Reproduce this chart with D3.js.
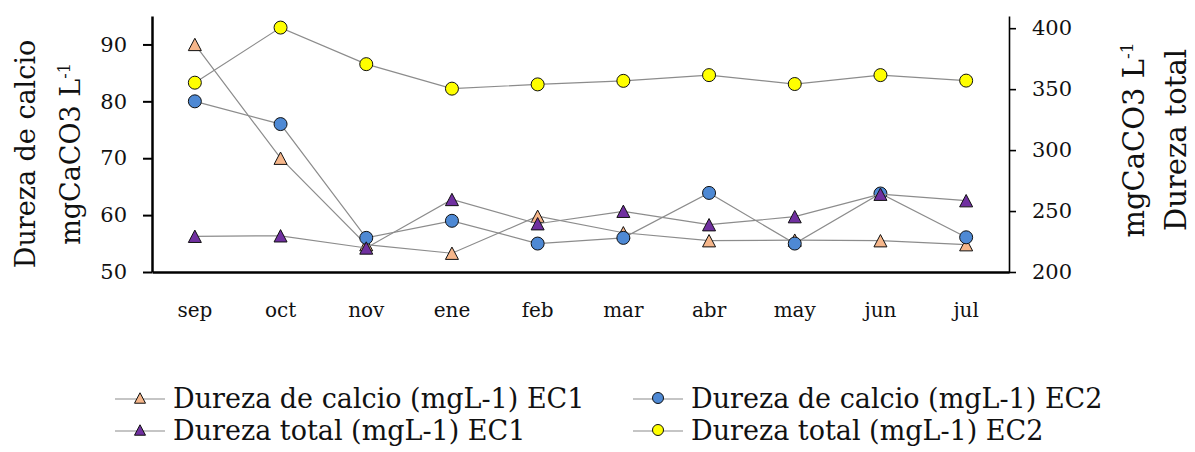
<!DOCTYPE html>
<html>
<head>
<meta charset="utf-8">
<script src="https://cdn.jsdelivr.net/npm/d3@7"></script>
<style>
  html, body { margin: 0; padding: 0; background: #fff; }
  svg { display: block; font-family: "DejaVu Serif", "Liberation Serif", serif; }
</style>
</head>
<body>
<svg id="chart" width="1195" height="452"></svg>
<script>
// Sampling months
const months = ["sep", "oct", "nov", "ene", "feb", "mar", "abr", "may", "jun", "jul"];

// Calcium hardness (left axis, mgCaCO3 L-1)
const calcioEC1 = [90, 70, 54.8, 53.3, 59.8, 56.9, 55.5, 55.6, 55.5, 54.8];
const calcioEC2 = [80, 76, 56, 59, 55, 56, 63.9, 55, 63.8, 56.1];

// Total hardness (right axis, mgCaCO3 L-1)
const totalEC1 = [229.3, 229.7, 219.7, 259.5, 239.6, 249.8, 238.8, 245.4, 263.8, 258.5];
const totalEC2 = [355.3, 400.5, 370.5, 350.4, 353.9, 356.8, 361.5, 354.2, 361.5, 357];

// Tick values
const leftTicks = [50, 60, 70, 80, 90];
const rightTicks = [200, 250, 300, 350, 400];

const legendLabels = [
  "Dureza de calcio (mgL-1) EC1",
  "Dureza de calcio (mgL-1) EC2",
  "Dureza total (mgL-1) EC1",
  "Dureza total (mgL-1) EC2"
];

const svg = d3.select("#chart");

const plot = { left: 152, right: 1009, top: 16, bottom: 272 };

const x = d3.scaleBand().domain(months).range([plot.left, plot.right]);
const xc = d => x(d) + x.bandwidth() / 2;
const yL = d3.scaleLinear().domain([50, 95]).range([plot.bottom, plot.top]);
const yR = d3.scaleLinear().domain([200, 410]).range([plot.bottom, plot.top]);

// Triangle centred on its bounding box
function triPath(w, h) {
  return `M0,${-h / 2}L${w / 2},${h / 2}L${-w / 2},${h / 2}Z`;
}

const series = [
  { name: legendLabels[0], values: calcioEC1, y: yL, shape: "tri", fill: "#F6B68A" },
  { name: legendLabels[1], values: calcioEC2, y: yL, shape: "circle", fill: "#4E89D4" },
  { name: legendLabels[2], values: totalEC1, y: yR, shape: "tri", fill: "#7030A0" },
  { name: legendLabels[3], values: totalEC2, y: yR, shape: "circle", fill: "#FFFF00" }
];

// Axes
const axisL = d3.axisLeft(yL).tickValues(leftTicks).tickSize(9).tickSizeOuter(0).tickPadding(16);
const gL = svg.append("g").attr("transform", `translate(${plot.left},0)`).call(axisL);
gL.select(".domain").attr("stroke", "#000").attr("stroke-width", 2.5);
gL.selectAll(".tick line").attr("stroke", "#000").attr("stroke-width", 2);
gL.selectAll(".tick text").attr("font-size", 21).attr("fill", "#111").attr("font-family", "DejaVu Serif");

const axisR = d3.axisRight(yR).tickValues(rightTicks).tickSize(7).tickSizeOuter(0).tickPadding(16);
const gR = svg.append("g").attr("transform", `translate(${plot.right},0)`).call(axisR);
gR.select(".domain").attr("stroke", "#000").attr("stroke-width", 1.6);
gR.selectAll(".tick line").attr("stroke", "#000").attr("stroke-width", 1.6);
gR.selectAll(".tick text").attr("font-size", 21).attr("fill", "#111").attr("font-family", "DejaVu Serif");

const axisB = d3.axisBottom(x).tickSize(0).tickSizeOuter(0).tickPadding(31);
const gB = svg.append("g").attr("transform", `translate(0,${plot.bottom})`).call(axisB);
gB.select(".domain").attr("stroke", "#000").attr("stroke-width", 2.5);
gB.selectAll(".tick text").attr("font-size", 20).attr("fill", "#111").attr("font-family", "DejaVu Serif");

// Axis titles
svg.append("text")
  .attr("transform", "translate(35,154) rotate(-90)")
  .attr("text-anchor", "middle").attr("font-size", 27).attr("fill", "#111")
  .text("Dureza de calcio");
const titleL2 = svg.append("text")
  .attr("transform", "translate(80,154) rotate(-90)")
  .attr("text-anchor", "middle").attr("font-size", 27).attr("fill", "#111");
titleL2.append("tspan").text("mgCaCO3 L");
titleL2.append("tspan").attr("font-size", 16).attr("dy", -10).text("-1");

const titleR = svg.append("text")
  .attr("transform", "translate(1144,140) rotate(-90)")
  .attr("text-anchor", "middle").attr("font-size", 29).attr("fill", "#111");
titleR.append("tspan").text("mgCaCO3 L");
titleR.append("tspan").attr("font-size", 17).attr("dy", -11).text("-1");
svg.append("text")
  .attr("transform", "translate(1186,140) rotate(-90)")
  .attr("text-anchor", "middle").attr("font-size", 29).attr("fill", "#111")
  .text("Dureza total");

// Series: connecting line then markers
const line = yScale => d3.line().x((d, i) => xc(months[i])).y(d => yScale(d));

function drawMarker(sel, s, size) {
  if (s.shape === "circle") {
    sel.append("circle").attr("r", size / 2)
      .attr("fill", s.fill).attr("stroke", "#111").attr("stroke-width", 1);
  } else {
    sel.append("path").attr("d", triPath(size, size * 0.95))
      .attr("fill", s.fill).attr("stroke", "#111").attr("stroke-width", 1);
  }
}

series.forEach(s => {
  const g = svg.append("g");
  g.append("path").datum(s.values)
    .attr("d", line(s.y))
    .attr("fill", "none").attr("stroke", "#8c8c8c").attr("stroke-width", 1.2);
  s.values.forEach((v, i) => {
    const m = g.append("g").attr("transform", `translate(${xc(months[i])},${s.y(v)})`);
    drawMarker(m, s, 13);
  });
});

// Legend
const legendPos = [
  { x: 115, y: 399 }, { x: 633, y: 399 },
  { x: 115, y: 431 }, { x: 633, y: 431 }
];
series.forEach((s, i) => {
  const p = legendPos[i];
  const g = svg.append("g").attr("transform", `translate(${p.x},${p.y})`);
  g.append("line").attr("x1", 0).attr("x2", 50).attr("y1", 0).attr("y2", 0)
    .attr("stroke", "#8c8c8c").attr("stroke-width", 1.2);
  const m = g.append("g").attr("transform", "translate(25,-1)");
  drawMarker(m, s, 11);
  g.append("text").attr("x", 58).attr("y", 9)
    .attr("font-size", 27).attr("fill", "#111")
    .text(s.name);
});
</script>
</body>
</html>
